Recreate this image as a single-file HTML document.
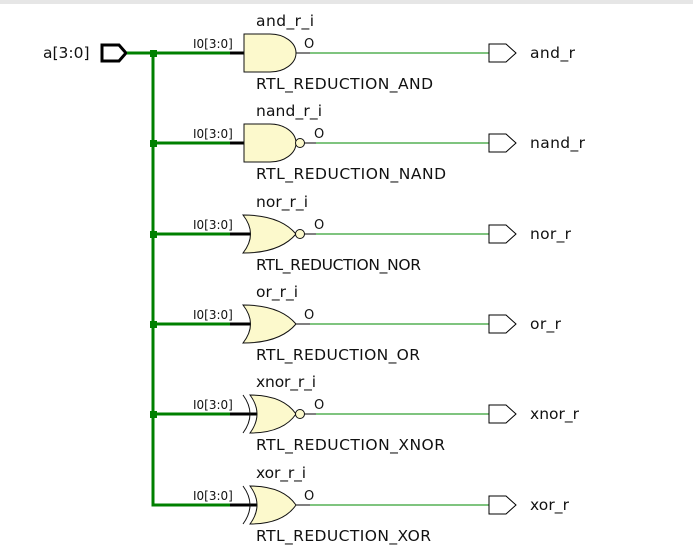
<!DOCTYPE html>
<html><head><style>
body{margin:0;background:#fff;}
svg{display:block;font-family:"DejaVu Sans","Liberation Sans",sans-serif;}
.l{font-size:15.5px;fill:#111}
.s{font-size:12px;fill:#111}
.o{font-size:13px;fill:#111}
.g{fill:#fcf9cc;stroke:#111;stroke-width:1}
</style></head><body>
<svg width="693" height="550" viewBox="0 0 693 550">
<rect x="0" y="0" width="693" height="4" fill="#e6e6e6"/>
<text class="l" x="43" y="58">a[3:0]</text>
<path d="M102,45 H119 L126,53 L119,61 H102 Z" fill="#fff" stroke="#000" stroke-width="3"/>
<g stroke="#008000" stroke-width="3" fill="none">
<path d="M127,53 H230"/>
<path d="M153,53 V505 H230"/>
<path d="M153,143 H230 M153,234 H230 M153,324 H230 M153,414 H230"/>
</g>
<g fill="#008000">
<rect x="150" y="50" width="7" height="7"/><rect x="150" y="140" width="7" height="7"/>
<rect x="150" y="231" width="7" height="7"/><rect x="150" y="321" width="7" height="7"/>
<rect x="150" y="411" width="7" height="7"/>
</g>
<g stroke="#000" stroke-width="3">
<path d="M230,53 H245 M230,143 H245 M230,234 H251 M230,324 H251 M230,414 H257 M230,505 H257"/>
</g>
<g stroke="#000" stroke-width="1">
<path d="M296,53 H310 M304,143 H316 M304,234 H316 M296,324 H310 M304,414 H316 M296,505 H310"/>
</g>
<g stroke="#33a033" stroke-width="1.2">
<path d="M310,53 H489 M316,143 H489 M316,234 H489 M310,324 H489 M316,414 H489 M310,505 H489"/>
</g>
<path class="g" d="M244,34 H270 A26,19 0 0 1 270,72 H244 Z"/>
<path class="g" d="M244,124 H270 A26,19 0 0 1 270,162 H244 Z"/>
<circle class="g" cx="300" cy="143" r="4.5"/>
<path class="g" d="M243,215 Q280,215 296,234 Q280,253 243,253 Q258,234 243,215 Z"/>
<circle class="g" cx="300" cy="234" r="4.5"/>
<path class="g" d="M243,305 Q280,305 296,324 Q280,343 243,343 Q258,324 243,305 Z"/>
<path class="g" d="M250,395 Q283,395 296,414 Q283,433 250,433 Q264,414 250,395 Z"/>
<path d="M243,395 Q257,414 243,433" fill="none" stroke="#111"/>
<circle class="g" cx="300" cy="414" r="4.5"/>
<path class="g" d="M250,486 Q283,486 296,505 Q283,524 250,524 Q264,505 250,486 Z"/>
<path d="M243,486 Q257,505 243,524" fill="none" stroke="#111"/>
<g fill="#fff" stroke="#000" stroke-width="1">
<path d="M489,44 H506 L516,53 L506,62 H489 Z"/>
<path d="M489,134 H506 L516,143 L506,152 H489 Z"/>
<path d="M489,225 H506 L516,234 L506,243 H489 Z"/>
<path d="M489,315 H506 L516,324 L506,333 H489 Z"/>
<path d="M489,405 H506 L516,414 L506,423 H489 Z"/>
<path d="M489,496 H506 L516,505 L506,514 H489 Z"/>
</g>
<text class="l" x="530" y="58" textLength="45">and_r</text>
<text class="l" x="530" y="148" textLength="55">nand_r</text>
<text class="l" x="530" y="239" textLength="41">nor_r</text>
<text class="l" x="530" y="329" textLength="31">or_r</text>
<text class="l" x="530" y="419" textLength="49">xnor_r</text>
<text class="l" x="530" y="510" textLength="39">xor_r</text>
<text class="l" x="256" y="26" textLength="58">and_r_i</text>
<text class="l" x="256" y="116" textLength="66">nand_r_i</text>
<text class="l" x="256" y="207" textLength="52">nor_r_i</text>
<text class="l" x="256" y="297" textLength="42">or_r_i</text>
<text class="l" x="256" y="387" textLength="60">xnor_r_i</text>
<text class="l" x="256" y="478" textLength="50">xor_r_i</text>
<text class="l" x="256" y="89" textLength="177">RTL_REDUCTION_AND</text>
<text class="l" x="256" y="179" textLength="190">RTL_REDUCTION_NAND</text>
<text class="l" x="256" y="270" textLength="165">RTL_REDUCTION_NOR</text>
<text class="l" x="256" y="360" textLength="164">RTL_REDUCTION_OR</text>
<text class="l" x="256" y="450" textLength="189">RTL_REDUCTION_XNOR</text>
<text class="l" x="256" y="541" textLength="175">RTL_REDUCTION_XOR</text>
<text class="s" x="193" y="48">I0[3:0]</text>
<text class="s" x="193" y="138">I0[3:0]</text>
<text class="s" x="193" y="229">I0[3:0]</text>
<text class="s" x="193" y="319">I0[3:0]</text>
<text class="s" x="193" y="409">I0[3:0]</text>
<text class="s" x="193" y="500">I0[3:0]</text>
<text class="o" x="304" y="48">O</text>
<text class="o" x="314" y="138">O</text>
<text class="o" x="314" y="229">O</text>
<text class="o" x="304" y="319">O</text>
<text class="o" x="314" y="409">O</text>
<text class="o" x="304" y="500">O</text>
</svg>
</body></html>
